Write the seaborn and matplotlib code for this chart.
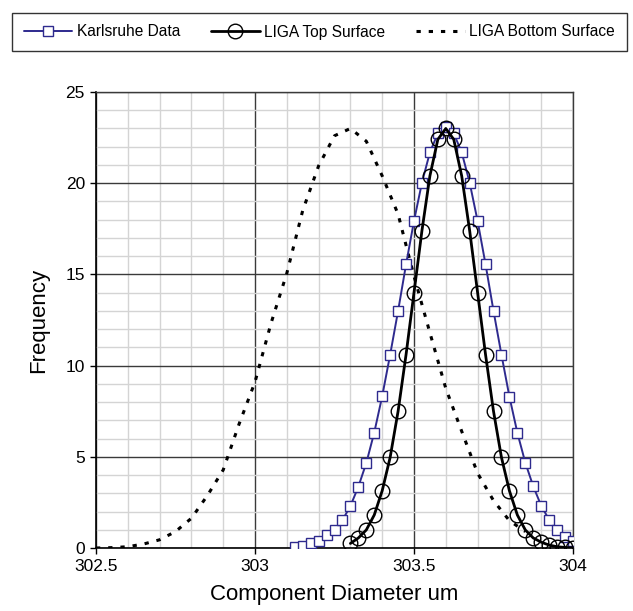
import matplotlib
matplotlib.use("Agg")
import matplotlib.pyplot as plt
from matplotlib.ticker import MultipleLocator
import seaborn as sns
import pandas as pd

# ---- data ----
karlsruhe_x = [303.125, 303.15, 303.175, 303.2, 303.225, 303.25, 303.275, 303.3, 303.325,
               303.35, 303.375, 303.4, 303.425, 303.45, 303.475, 303.5, 303.525, 303.55,
               303.575, 303.6, 303.625, 303.65, 303.675, 303.7, 303.725, 303.75, 303.775,
               303.8, 303.825, 303.85, 303.875, 303.9, 303.925, 303.95, 303.975, 304.0]
karlsruhe_y = [0.07, 0.13, 0.26, 0.37, 0.70, 0.99, 1.53, 2.30, 3.36,
               4.66, 6.33, 8.32, 10.6, 13.0, 15.55, 17.93, 20.03, 21.69,
               22.73, 23.1, 22.73, 21.69, 20.03, 17.93, 15.55, 13.0, 10.6,
               8.3, 6.32, 4.68, 3.38, 2.32, 1.54, 0.99, 0.62, 0.38]

top_x = [303.3, 303.325, 303.35, 303.375, 303.4, 303.425, 303.45, 303.475, 303.5,
         303.525, 303.55, 303.575, 303.6, 303.625, 303.65, 303.675, 303.7, 303.725,
         303.75, 303.775, 303.8, 303.825, 303.85, 303.875, 303.9, 303.925, 303.95,
         303.975, 304.0]
top_y = [0.25, 0.55, 0.99, 1.81, 3.14, 4.97, 7.5, 10.6, 14.0,
         17.4, 20.4, 22.4, 23.0, 22.4, 20.4, 17.4, 14.0, 10.6,
         7.5, 4.97, 3.14, 1.81, 0.99, 0.55, 0.32, 0.16, 0.07,
         0.03, 0.01]

bottom_x = [302.5, 302.55, 302.6, 302.65, 302.7, 302.75, 302.8, 302.85, 302.9, 302.95,
            303.0, 303.05, 303.1, 303.15, 303.2, 303.25, 303.3, 303.35, 303.4, 303.45,
            303.5, 303.55, 303.6, 303.65, 303.7, 303.75, 303.8, 303.85]
bottom_y = [0.0, 0.02, 0.07, 0.22, 0.45, 0.9, 1.63, 2.87, 4.28, 6.8,
            9.1, 12.3, 15.06, 18.5, 20.95, 22.6, 23.0, 22.3, 20.4, 18.3,
            14.9, 11.8, 8.75, 6.4, 4.1, 2.6, 1.5, 0.9]

series_names = ["Karlsruhe Data", "LIGA Top Surface", "LIGA Bottom Surface"]
x_ticks = [302.5, 303, 303.5, 304]
x_tick_labels = ["302.5", "303", "303.5", "304"]
y_ticks = [0, 5, 10, 15, 20, 25]

sns.set_style("white")
plt.rcParams["font.family"] = ["Liberation Sans", "DejaVu Sans"]
plt.rcParams["text.color"] = "black"
plt.rcParams["axes.labelcolor"] = "black"
plt.rcParams["xtick.color"] = "black"
plt.rcParams["ytick.color"] = "black"

fig = plt.figure(figsize=(6.33, 6.11), dpi=100)
ax = fig.add_axes([96 / 633, 1 - 548 / 611, (573 - 96) / 633, (548 - 92) / 611])

navy = "#2e2a8e"

df_k = pd.DataFrame({"x": karlsruhe_x, "y": karlsruhe_y})
df_t = pd.DataFrame({"x": top_x, "y": top_y})
df_b = pd.DataFrame({"x": bottom_x, "y": bottom_y})

sns.lineplot(data=df_k, x="x", y="y", ax=ax, sort=False, estimator=None,
             color=navy, lw=1.4, marker="s", markersize=7.8,
             markerfacecolor="white", markeredgecolor=navy, markeredgewidth=1.0,
             label=series_names[0], zorder=4)
sns.lineplot(data=df_t, x="x", y="y", ax=ax, sort=False, estimator=None,
             color="black", lw=2.0, marker="o", markersize=10.5,
             markerfacecolor="none", markeredgecolor="black", markeredgewidth=1.0,
             label=series_names[1], zorder=5)
sns.lineplot(data=df_b, x="x", y="y", ax=ax, sort=False, estimator=None,
             color="black", lw=2.2, linestyle=(0, (1.4, 2.6)),
             label=series_names[2], zorder=3)

ax.set_xlim(302.5, 304)
ax.set_ylim(0, 25)
ax.set_xticks(x_ticks)
ax.set_xticklabels(x_tick_labels)
ax.set_yticks(y_ticks)
ax.xaxis.set_minor_locator(MultipleLocator(0.1))
ax.yaxis.set_minor_locator(MultipleLocator(1))
ax.grid(which="minor", color="#d4d4d4", lw=1.0, zorder=0)
ax.grid(which="major", color="#3a3a3a", lw=1.0, zorder=1)
ax.set_axisbelow(True)
ax.tick_params(which="major", direction="out", length=4, width=1, color="black",
               labelcolor="black", labelsize=12.5, pad=4, bottom=True, left=True)
ax.tick_params(which="minor", length=0)
for s in ["left", "bottom"]:
    ax.spines[s].set_color("black")
    ax.spines[s].set_linewidth(1.2)
for s in ["top", "right"]:
    ax.spines[s].set_color("#3a3a3a")
    ax.spines[s].set_linewidth(1.0)

ax.set_xlabel("Component Diameter um", fontsize=16, labelpad=7, color="black")
ax.set_ylabel("Frequency", fontsize=16, labelpad=12, color="black")

handles, labels = ax.get_legend_handles_labels()
ax.get_legend().remove()
leg = fig.legend(handles, labels, loc="center", ncol=3,
                 bbox_to_anchor=(319.5 / 633, 1 - 32 / 611),
                 frameon=True, fancybox=False, edgecolor="black",
                 fontsize=11.2, handlelength=3.1, handletextpad=0.3,
                 columnspacing=2.0, borderpad=0.75, borderaxespad=0)
leg.get_frame().set_linewidth(1.0)
leg._legend_handle_box.align = "top"
for t in leg.get_texts():
    t.set_color("black")

fig.savefig("out.png", dpi=100)
